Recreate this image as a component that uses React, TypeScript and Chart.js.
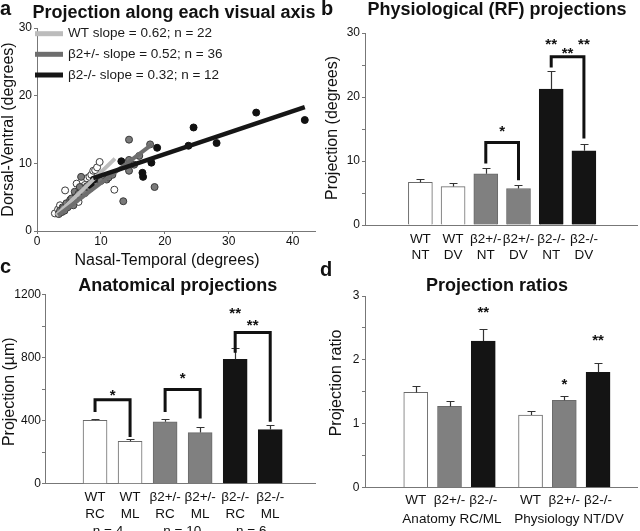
import React, { useEffect, useRef } from 'react';
import { Chart, registerables } from 'chart.js';

Chart.register(...registerables);

const FONT = "'Liberation Sans', Arial, Helvetica, sans-serif";
const INK = '#111111';
const AXIS = '#777777';
Chart.defaults.font.family = FONT;
Chart.defaults.color = INK;

// ---------------- Panel a: scatter ----------------
const wtPoints: [number, number][] = [
  [2.8, 2.6], [3.3, 3.2], [3.6, 3.8], [4.0, 3.5], [4.4, 6.0], [4.8, 4.0], [5.2, 4.4], [5.5, 4.8],
  [6.0, 5.0], [6.2, 7.0], [6.5, 4.3], [6.8, 5.8], [7.0, 6.5], [7.5, 6.8], [7.8, 7.8], [8.2, 8.0],
  [8.5, 8.3], [8.8, 8.9], [9.1, 9.0], [9.4, 9.4], [9.8, 10.2], [12.1, 6.1],
];
const hetPoints: [number, number][] = [
  [3.4, 2.5], [3.6, 3.0], [3.9, 2.8], [4.1, 3.4], [4.3, 3.0], [4.6, 4.1], [4.8, 3.5], [5.0, 3.8],
  [5.2, 4.6], [5.4, 4.8], [5.5, 4.2], [5.7, 3.8], [5.9, 5.8], [6.0, 4.6], [6.2, 5.0], [6.5, 5.5],
  [6.7, 5.3], [6.7, 6.5], [6.9, 8.0], [7.2, 5.8], [7.5, 5.6], [7.8, 6.6], [8.3, 6.3], [9.0, 7.0],
  [10.0, 7.4], [10.9, 7.6], [11.2, 7.9], [11.8, 8.3], [13.5, 4.4], [14.4, 8.9], [14.4, 10.5],
  [14.4, 13.5], [15.2, 9.8], [16.0, 11.1], [17.7, 12.8], [18.4, 6.5],
];
const koPoints: [number, number][] = [
  [8.4, 6.8], [8.9, 7.6], [13.2, 10.3], [16.5, 8.6], [16.6, 8.0], [17.9, 10.1], [18.8, 12.3],
  [23.7, 12.6], [24.5, 15.3], [28.1, 13.0], [34.3, 17.5], [41.9, 16.4],
];
const wtFit: [number, number][] = [[3.0, 2.3], [12.2, 10.7]];
const hetFit: [number, number][] = [[3.3, 2.3], [18.0, 12.8]];
const koFit: [number, number][] = [[8.8, 7.8], [41.9, 18.3]];
const aLegend = ['WT slope = 0.62; n = 22', 'β2+/- slope = 0.52; n = 36', 'β2-/- slope = 0.32; n = 12'];
const aXTicks = [0, 10, 20, 30, 40];
const aYTicks = [0, 10, 20, 30];

// ---------------- Panel b: physiological projections ----------------
const bLabels = [['WT', 'NT'], ['WT', 'DV'], ['β2+/-', 'NT'], ['β2+/-', 'DV'], ['β2-/-', 'NT'], ['β2-/-', 'DV']];
const bPos = [1, 2, 3, 4, 5, 6];
const bMeans = [6.67, 6.0, 8.0, 5.7, 21.25, 11.6];
const bErr = [7.2, 6.5, 8.85, 6.25, 24.1, 12.6];
const bSig = [
  { from: 3, to: 4, top: 12.9, left: 9.6, right: 7.0 },
  { from: 5, to: 6, top: 26.3, left: 24.6, right: 13.5 },
];
const bStars = [
  { x: 3.5, y: 15.2, text: '*' },
  { x: 5, y: 28.9, text: '**' },
  { x: 6, y: 28.9, text: '**' },
  { x: 5.5, y: 27.5, text: '**' },
];

// ---------------- Panel c: anatomical projections ----------------
const cLabels = [['WT', 'RC'], ['WT', 'ML'], ['β2+/-', 'RC'], ['β2+/-', 'ML'], ['β2-/-', 'RC'], ['β2-/-', 'ML']];
const cPos = [1, 2, 3, 4, 5, 6];
const cGroupN = ['n = 4', 'n = 10', 'n = 6'];
const cGroupPos = [1.37, 3.49, 5.46];
const cMeans = [403, 270, 393, 325, 790, 344];
const cErr = [414, 287, 414, 363, 860, 372];
const cSig = [
  { from: 1, to: 2, top: 533, left: 456, right: 297 },
  { from: 3, to: 4, top: 599, left: 456, right: 414 },
  { from: 5, to: 6, top: 960, left: 832, right: 393 },
];
const cStars = [
  { x: 1.5, y: 588, text: '*' },
  { x: 3.5, y: 695, text: '*' },
  { x: 5, y: 1104, text: '**' },
  { x: 5.5, y: 1030, text: '**' },
];

// ---------------- Panel d: projection ratios ----------------
const dLabels = ['WT', 'β2+/-', 'β2-/-', 'WT', 'β2+/-', 'β2-/-'];
const dPos = [1, 2, 3, 4.4, 5.4, 6.4];
const dGroups = ['Anatomy RC/ML', 'Physiology NT/DV'];
const dGroupPos = [2.07, 5.54];
const dMeans = [1.49, 1.27, 2.295, 1.136, 1.366, 1.805];
const dErr = [1.595, 1.36, 2.48, 1.2, 1.44, 1.955];
const dStars = [
  { x: 3, y: 2.81, text: '**' },
  { x: 5.4, y: 1.68, text: '*' },
  { x: 6.4, y: 2.36, text: '**' },
];

// ---------------- styles ----------------
const WHITE = '#ffffff';
const GREY = '#808080';
const BLACK = '#141414';
const pairFills = [WHITE, WHITE, GREY, GREY, BLACK, BLACK];
const pairBorders = ['#6a6a6a', '#6a6a6a', '#6a6a6a', '#6a6a6a', BLACK, BLACK];
const groupFills = [WHITE, GREY, BLACK, WHITE, GREY, BLACK];
const groupBorders = ['#6a6a6a', '#6a6a6a', BLACK, '#6a6a6a', '#6a6a6a', BLACK];

type TextItem = { text: string; x: number; y: number; font: string; align?: CanvasTextAlign; baseline?: CanvasTextBaseline; rotate?: number };
type Sig = { from: number; to: number; top: number; left: number; right: number };
type Star = { x: number; y: number; text: string };

function textPlugin(items: TextItem[]) {
  return {
    id: 'panelTexts',
    afterDraw(chart: any) {
      const ctx = chart.ctx as CanvasRenderingContext2D;
      for (const t of items) {
        ctx.save();
        ctx.font = t.font;
        ctx.fillStyle = INK;
        ctx.textAlign = t.align || 'center';
        ctx.textBaseline = t.baseline || 'alphabetic';
        ctx.translate(t.x, t.y);
        if (t.rotate) ctx.rotate(t.rotate);
        ctx.fillText(t.text, 0, 0);
        ctx.restore();
      }
    },
  };
}

function barMarksPlugin(pos: number[], means: number[], errs: number[], sig: Sig[], stars: Star[]) {
  return {
    id: 'barMarks',
    afterDatasetsDraw(chart: any) {
      const ctx = chart.ctx as CanvasRenderingContext2D;
      const x = chart.scales.x;
      const y = chart.scales.y;
      ctx.save();
      ctx.strokeStyle = '#333333';
      ctx.lineWidth = 1.2;
      pos.forEach((p, i) => {
        const px = Math.round(x.getPixelForValue(p)) + 0.5;
        const y0 = y.getPixelForValue(means[i]);
        const y1 = Math.round(y.getPixelForValue(errs[i])) + 0.5;
        ctx.beginPath();
        ctx.moveTo(px, y0);
        ctx.lineTo(px, y1);
        ctx.moveTo(px - 4, y1);
        ctx.lineTo(px + 4, y1);
        ctx.stroke();
      });
      ctx.strokeStyle = INK;
      ctx.lineWidth = 3;
      ctx.lineJoin = 'miter';
      ctx.lineCap = 'butt';
      sig.forEach((s) => {
        const xa = x.getPixelForValue(s.from);
        const xb = x.getPixelForValue(s.to);
        ctx.beginPath();
        ctx.moveTo(xa, y.getPixelForValue(s.left));
        ctx.lineTo(xa, y.getPixelForValue(s.top));
        ctx.lineTo(xb, y.getPixelForValue(s.top));
        ctx.lineTo(xb, y.getPixelForValue(s.right));
        ctx.stroke();
      });
      const size = 15;
      ctx.font = `bold ${size}px ${FONT}`;
      ctx.fillStyle = INK;
      ctx.textAlign = 'center';
      ctx.textBaseline = 'alphabetic';
      stars.forEach((s) => {
        ctx.fillText(s.text, x.getPixelForValue(s.x), y.getPixelForValue(s.y) + size * 0.57);
      });
      ctx.restore();
    },
  };
}

function scatterLegendPlugin() {
  return {
    id: 'aLegend',
    afterDraw(chart: any) {
      const ctx = chart.ctx as CanvasRenderingContext2D;
      const fits = chart.data.datasets.filter((d: any) => d.showLine).slice().reverse();
      const rows = [33.7, 54.3, 75];
      ctx.save();
      fits.forEach((d: any, i: number) => {
        ctx.strokeStyle = d.borderColor;
        ctx.lineWidth = 5;
        ctx.beginPath();
        ctx.moveTo(35, rows[i]);
        ctx.lineTo(63, rows[i]);
        ctx.stroke();
        ctx.font = `13.5px ${FONT}`;
        ctx.fillStyle = '#1a1a1a';
        ctx.textAlign = 'left';
        ctx.textBaseline = 'middle';
        ctx.fillText(d.label, 68, rows[i]);
      });
      ctx.restore();
    },
  };
}

const toXY = (arr: [number, number][]) => arr.map(([x, y]) => ({ x, y }));

function buildA(): any {
  return {
    type: 'scatter',
    data: {
      datasets: [
        { label: aLegend[2], data: toXY(koFit), showLine: true, borderColor: '#161616', borderWidth: 4.5, pointRadius: 0, order: 1 },
        { label: aLegend[1], data: toXY(hetFit), showLine: true, borderColor: '#6e6e6e', borderWidth: 4, pointRadius: 0, order: 2 },
        { label: aLegend[0], data: toXY(wtFit), showLine: true, borderColor: '#bcbcbc', borderWidth: 4, pointRadius: 0, order: 3 },
        { label: 'β2-/-', data: toXY(koPoints), backgroundColor: '#111111', borderColor: '#111111', borderWidth: 1, pointRadius: 3.5, order: 11 },
        { label: 'β2+/-', data: toXY(hetPoints), backgroundColor: '#7a7a7a', borderColor: '#3a3a3a', borderWidth: 1, pointRadius: 3.5, order: 12 },
        { label: 'WT', data: toXY(wtPoints), backgroundColor: '#ffffff', borderColor: '#3a3a3a', borderWidth: 1, pointRadius: 3.5, order: 13 },
      ],
    },
    options: {
      animation: false,
      responsive: false,
      layout: { padding: { left: 0, top: 28, right: 4.6, bottom: 0 } },
      plugins: { legend: { display: false }, tooltip: { enabled: false } },
      scales: {
        x: {
          type: 'linear', min: 0, max: 43.5,
          afterFit: (s: any) => { s.height = 44; },
          afterBuildTicks: (s: any) => { s.ticks = aXTicks.map((v) => ({ value: v })); },
          ticks: { font: { size: 12 }, color: INK, padding: 0, autoSkip: false, maxRotation: 0 },
          grid: { drawOnChartArea: false, drawTicks: true, tickLength: 3, color: AXIS },
          border: { color: AXIS, width: 1 },
        },
        y: {
          type: 'linear', min: 0, max: 30,
          afterFit: (s: any) => { s.width = 37; },
          afterBuildTicks: (s: any) => { s.ticks = aYTicks.map((v) => ({ value: v })); },
          ticks: { font: { size: 12 }, color: INK, padding: 2 },
          grid: { drawOnChartArea: false, drawTicks: true, tickLength: 3, color: AXIS },
          border: { color: AXIS, width: 1 },
        },
      },
    },
    plugins: [
      scatterLegendPlugin(),
      textPlugin([
        { text: 'a', x: 0, y: 15, font: `bold 20px ${FONT}`, align: 'left' },
        { text: 'Projection along each visual axis', x: 174, y: 17.5, font: `bold 18px ${FONT}` },
        { text: 'Dorsal-Ventral (degrees)', x: 8.5, y: 129.5, font: `16px ${FONT}`, baseline: 'middle', rotate: -Math.PI / 2 },
        { text: 'Nasal-Temporal (degrees)', x: 167, y: 265, font: `16px ${FONT}` },
      ]),
    ],
  };
}

type BarOpts = {
  pos: number[]; means: number[]; errs: number[]; fills: string[]; borders: string[];
  sig: Sig[]; stars: Star[]; ticks: { value: number; label: string[] }[];
  xMax: number; yMax: number; yStep: number; yLabelEvery: number;
  top: number; right: number; xHeight: number; tickPad: number; lineHeight: number; yPad: number;
  texts: TextItem[];
};

function buildBar(o: BarOpts): any {
  const ticks = o.ticks.slice().sort((a, b) => a.value - b.value);
  return {
    type: 'bar',
    data: {
      datasets: [
        {
          data: o.pos.map((x, i) => ({ x, y: o.means[i] })),
          backgroundColor: o.fills,
          borderColor: o.borders,
          borderWidth: 1,
          barThickness: 24,
        },
      ],
    },
    options: {
      animation: false,
      responsive: false,
      layout: { padding: { left: 0, top: o.top, right: o.right, bottom: 0 } },
      plugins: { legend: { display: false }, tooltip: { enabled: false } },
      scales: {
        x: {
          type: 'linear', min: 0, max: o.xMax,
          afterFit: (s: any) => { s.height = o.xHeight; },
          afterBuildTicks: (s: any) => { s.ticks = ticks.map((t) => ({ value: t.value })); },
          ticks: {
            callback: (_v: any, i: number) => ticks[i] ? ticks[i].label : '',
            font: { size: 13.5, lineHeight: o.lineHeight }, color: INK, padding: o.tickPad,
            autoSkip: false, maxRotation: 0, minRotation: 0,
          },
          grid: { display: false, drawTicks: false, drawOnChartArea: false },
          border: { display: true, color: AXIS, width: 1 },
        },
        y: {
          type: 'linear', min: 0, max: o.yMax,
          afterFit: (s: any) => { s.width = 45; },
          ticks: {
            stepSize: o.yStep,
            callback: (v: any) => {
              const r = v / o.yLabelEvery;
              return Math.abs(r - Math.round(r)) < 1e-6 ? String(v) : '';
            },
            font: { size: 12 }, color: INK, padding: o.yPad,
          },
          grid: { drawOnChartArea: false, drawTicks: true, tickLength: 3, color: AXIS },
          border: { color: AXIS, width: 1 },
        },
      },
    },
    plugins: [barMarksPlugin(o.pos, o.means, o.errs, o.sig, o.stars), textPlugin(o.texts)],
  };
}

function buildB() {
  return buildBar({
    pos: bPos, means: bMeans, errs: bErr, fills: pairFills, borders: pairBorders, sig: bSig, stars: bStars,
    ticks: bPos.map((v, i) => ({ value: v, label: bLabels[i] })),
    xMax: 6.93, yMax: 30, yStep: 5, yLabelEvery: 10,
    top: 33, right: 3, xHeight: 40, tickPad: 6.8, lineHeight: 1.14, yPad: 2,
    texts: [
      { text: 'b', x: 1, y: 15, font: `bold 20px ${FONT}`, align: 'left' },
      { text: 'Physiological (RF) projections', x: 177, y: 15, font: `bold 18px ${FONT}` },
      { text: 'Projection (degrees)', x: 13, y: 128, font: `16px ${FONT}`, baseline: 'middle', rotate: -Math.PI / 2 },
    ],
  });
}

function buildC() {
  return buildBar({
    pos: cPos, means: cMeans, errs: cErr, fills: pairFills, borders: pairBorders, sig: cSig, stars: cStars,
    ticks: [
      ...cPos.map((v, i) => ({ value: v, label: cLabels[i] })),
      ...cGroupPos.map((v, i) => ({ value: v, label: ['', '', cGroupN[i]] })),
    ],
    xMax: 6.85, yMax: 1200, yStep: 200, yLabelEvery: 400,
    top: 39.7, right: 5, xHeight: 47.2, tickPad: 5.1, lineHeight: 1.25, yPad: 1,
    texts: [
      { text: 'c', x: 0, y: 18.4, font: `bold 20px ${FONT}`, align: 'left' },
      { text: 'Anatomical projections', x: 177.7, y: 36, font: `bold 18px ${FONT}` },
      { text: 'Projection (µm)', x: 10, y: 136.7, font: `16px ${FONT}`, baseline: 'middle', rotate: -Math.PI / 2 },
    ],
  });
}

function buildD() {
  return buildBar({
    pos: dPos, means: dMeans, errs: dErr, fills: groupFills, borders: groupBorders, sig: [], stars: dStars,
    ticks: [
      ...dPos.map((v, i) => ({ value: v, label: [dLabels[i], ''] })),
      ...dGroupPos.map((v, i) => ({ value: v, label: ['', dGroups[i]] })),
    ],
    xMax: 7.05, yMax: 3, yStep: 0.5, yLabelEvery: 1,
    top: 41, right: 3, xHeight: 43.5, tickPad: 4.2, lineHeight: 1.34, yPad: 2.5,
    texts: [
      { text: 'd', x: 0, y: 21.4, font: `bold 20px ${FONT}`, align: 'left' },
      { text: 'Projection ratios', x: 177, y: 36, font: `bold 18px ${FONT}` },
      { text: 'Projection ratio', x: 17, y: 128, font: `16px ${FONT}`, baseline: 'middle', rotate: -Math.PI / 2 },
    ],
  });
}

function ChartBox({ left, top, width, height, build }: { left: number; top: number; width: number; height: number; build: () => any }) {
  const ref = useRef<HTMLCanvasElement>(null);
  useEffect(() => {
    const chart = new Chart(ref.current as HTMLCanvasElement, build());
    return () => chart.destroy();
  }, []);
  return (
    <canvas
      ref={ref}
      width={width}
      height={height}
      style={{ position: 'absolute', left, top, width, height, display: 'block' }}
    />
  );
}

export default function App() {
  return (
    <div style={{ position: 'absolute', left: 0, top: 0, width: 640, height: 531, background: '#ffffff', overflow: 'hidden' }}>
      <ChartBox left={0} top={0} width={320} height={275} build={buildA} />
      <ChartBox left={320} top={0} width={320} height={265} build={buildB} />
      <ChartBox left={0} top={255} width={320} height={276} build={buildC} />
      <ChartBox left={320} top={255} width={320} height={276} build={buildD} />
    </div>
  );
}
